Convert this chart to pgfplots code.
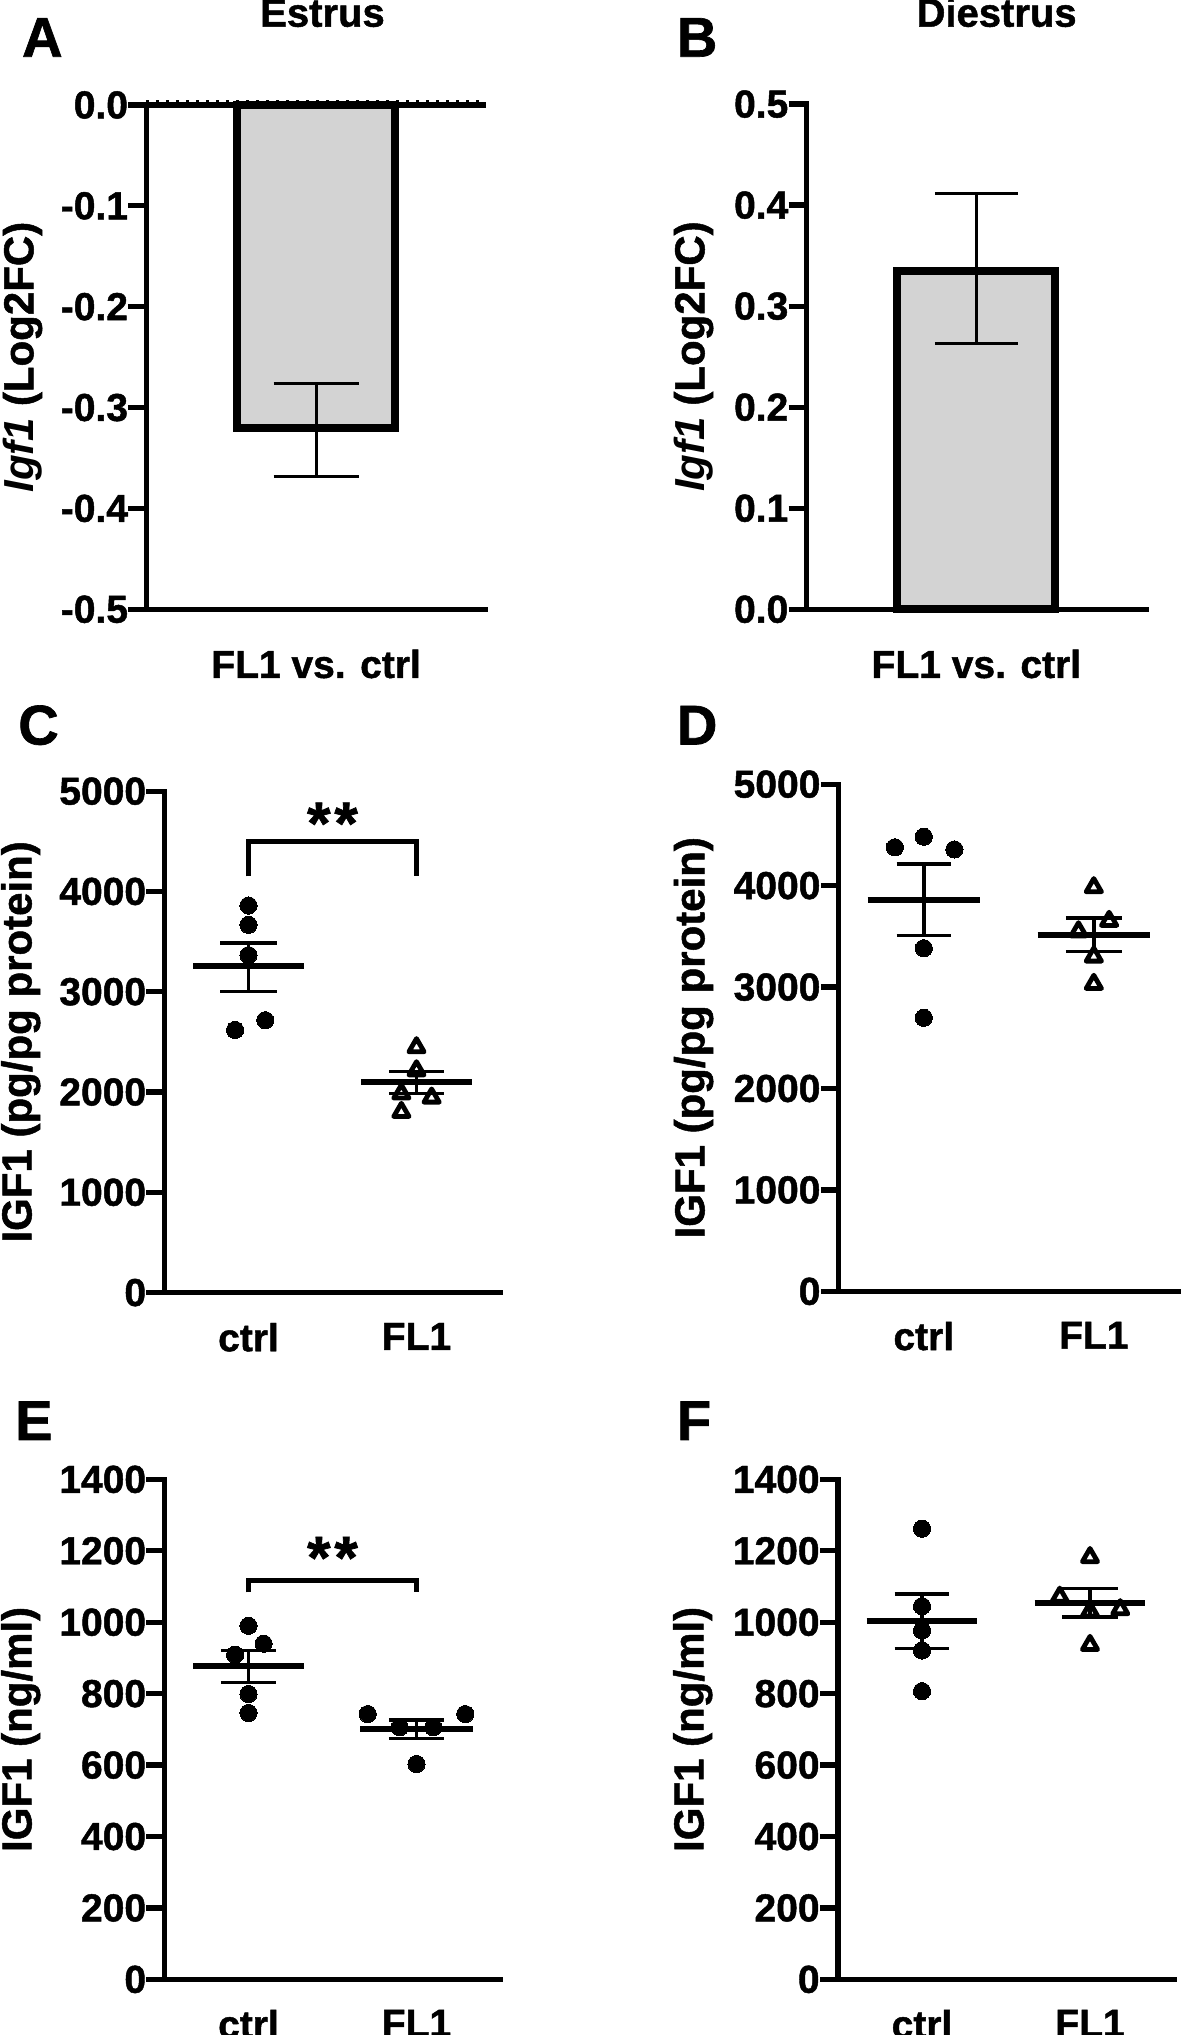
\documentclass[border=0pt]{standalone}
\usepackage{fontspec}
\setmainfont{Liberation Sans}[BoldFeatures={FakeBold=1.2}]
\usepackage{pgfplots}
\pgfplotsset{compat=1.18}
\definecolor{barg}{RGB}{211,211,211}
\newcommand{\tickf}{\bfseries\fontsize{19.5pt}{22pt}\selectfont}
\newcommand{\labf}{\bfseries\fontsize{21pt}{24pt}\selectfont}
\newcommand{\titf}{\bfseries\fontsize{20pt}{23pt}\selectfont}
\newcommand{\letf}{\bfseries\fontsize{28pt}{32pt}\selectfont}
\newcommand{\starf}{\bfseries\fontsize{30pt}{34pt}\selectfont}

\pgfplotsset{
  prism/.style={
    scale only axis, clip=false,
    axis x line*=bottom, axis y line*=left,
    axis line style={-, line width=2.65pt, line cap=rect},
    x axis line style={-}, y axis line style={-},
    tick style={line width=2.65pt, black},
    major tick length=9pt,
    tick align=outside,
    major x tick style={draw=none},
    yticklabel style={font=\tickf, inner sep=0pt},
    xticklabel style={font=\tickf, inner sep=0pt},
    every axis y label/.style={rotate=90, anchor=center, font=\labf},
  },
  mean/.style={black, line width=3pt, mark=none},
  sem/.style={black, line width=1.7pt, mark=none},
  ctrlm/.style={only marks, mark=*, mark size=4.3pt, mark options={draw=black, fill=black, line width=0pt}},
  trim/.style={only marks, mark=triangle, mark size=4.4pt, mark options={draw=black, line width=2.4pt, line join=round}},
}

\begin{document}
\begin{tikzpicture}
\useasboundingbox (0,0) rectangle (590.5pt,1017.5pt);

% ---------------- A ----------------
\begin{axis}[prism, at={(73.2pt,712.85pt)}, anchor=south west,
  width=169.7pt, height=252.15pt,
  xmin=0, xmax=1, ymin=-0.5, ymax=0,
  ytick={-0.5,-0.4,-0.3,-0.2,-0.1,0}, yticklabels={-0.5,-0.4,-0.3,-0.2,-0.1,0.0},
  xtick={0.5}, xticklabels={FL1 vs. ctrl}, xticklabel style={yshift=-11pt},
  ylabel={\itshape Igf1\upshape{} (Log2FC)},
  ylabel style={at={(axis description cs:-0.3648,0.5)}}]
\addplot[ybar, bar width=79pt, fill=barg, draw=black, line width=4pt] coordinates {(0.5,-0.32)};
\addplot[black, line width=2.65pt] coordinates {(0,0) (1,0)};
\addplot[black, line width=1.3pt, dash pattern=on 1.3pt off 3.7pt] coordinates {(0,0.004) (1,0.004)};
\addplot[black, line width=1.5pt] coordinates {(0.5,-0.276) (0.5,-0.368)};
\addplot[black, line width=1.5pt] coordinates {(0.375,-0.276) (0.625,-0.276)};
\addplot[black, line width=1.5pt] coordinates {(0.375,-0.368) (0.625,-0.368)};
\end{axis}

% ---------------- B ----------------
\begin{axis}[prism, at={(403.35pt,712.85pt)}, anchor=south west,
  width=169.65pt, height=252.6pt,
  xmin=0, xmax=1, ymin=0, ymax=0.5,
  ytick={0,0.1,0.2,0.3,0.4,0.5}, yticklabels={0.0,0.1,0.2,0.3,0.4,0.5},
  xtick={0.5}, xticklabels={FL1 vs. ctrl}, xticklabel style={yshift=-11pt},
  ylabel={\itshape Igf1\upshape{} (Log2FC)},
  ylabel style={at={(axis description cs:-0.3333,0.5)}}]
\addplot[ybar, bar width=79pt, fill=barg, draw=black, line width=4pt] coordinates {(0.5,0.335)};
\addplot[black, line width=1.5pt] coordinates {(0.5,0.263) (0.5,0.412)};
\addplot[black, line width=1.5pt] coordinates {(0.378,0.412) (0.622,0.412)};
\addplot[black, line width=1.5pt] coordinates {(0.378,0.263) (0.622,0.263)};
\end{axis}

% ---------------- C ----------------
\begin{axis}[prism, at={(82.25pt,371.2pt)}, anchor=south west,
  width=168pt, height=250.7pt,
  xmin=0.5, xmax=2.5, ymin=0, ymax=5000,
  ytick={0,1000,2000,3000,4000,5000}, yticklabels={0,1000,2000,3000,4000,5000},
  xtick={1,2}, xticklabels={ctrl,FL1}, xticklabel style={yshift=-6pt},
  ylabel={IGF1 (pg/pg protein)},
  ylabel style={at={(axis description cs:-0.428,0.5)}}]
\addplot[ctrlm] coordinates {(1,3860) (1,3667) (1,3365) (0.92,2619) (1.10,2716)};
\addplot[trim] coordinates {(2,2445) (2,2215) (1.91,1984) (2.09,1943) (1.91,1800)};
\addplot[mean] coordinates {(0.67,3253) (1.33,3253)};
\addplot[sem] coordinates {(1,3003) (1,3488)};
\addplot[sem] coordinates {(0.832,3488) (1.168,3488)};
\addplot[sem] coordinates {(0.832,3003) (1.168,3003)};
\addplot[mean] coordinates {(1.67,2099) (2.33,2099)};
\addplot[sem] coordinates {(2,1985) (2,2205)};
\addplot[sem] coordinates {(1.835,2205) (2.165,2205)};
\addplot[sem] coordinates {(1.835,1985) (2.165,1985)};
\addplot[black, line width=2.5pt, mark=none] coordinates {(1,4150) (1,4503) (2,4503) (2,4150)};
\node[font=\starf, anchor=north, inner sep=0pt] at (axis cs:1.5,4890) {*\kern2pt*};
\end{axis}

% ---------------- D ----------------
\begin{axis}[prism, at={(419.4pt,371.8pt)}, anchor=south west,
  width=170pt, height=253.6pt,
  xmin=0.5, xmax=2.5, ymin=0, ymax=5000,
  ytick={0,1000,2000,3000,4000,5000}, yticklabels={0,1000,2000,3000,4000,5000},
  xtick={1,2}, xticklabels={ctrl,FL1}, xticklabel style={yshift=-6pt},
  ylabel={IGF1 (pg/pg protein)},
  ylabel style={at={(axis description cs:-0.427,0.5)}}]
\addplot[ctrlm] coordinates {(0.83,4378) (1,4482) (1.18,4357) (1,3383) (1,2697)};
\addplot[trim] coordinates {(2,3983) (2.09,3651) (1.91,3548) (2,3299) (2,3030)};
\addplot[mean] coordinates {(0.67,3859) (1.33,3859)};
\addplot[sem] coordinates {(1,3506) (1,4212)};
\addplot[sem] coordinates {(0.84,4212) (1.16,4212)};
\addplot[sem] coordinates {(0.84,3506) (1.16,3506)};
\addplot[mean] coordinates {(1.67,3515) (2.33,3515)};
\addplot[sem] coordinates {(2,3352) (2,3680)};
\addplot[sem] coordinates {(1.835,3680) (2.165,3680)};
\addplot[sem] coordinates {(1.835,3352) (2.165,3352)};
\end{axis}

% ---------------- E ----------------
\begin{axis}[prism, at={(82.25pt,27.8pt)}, anchor=south west,
  width=168pt, height=250pt,
  xmin=0.5, xmax=2.5, ymin=0, ymax=1400,
  ytick={0,200,400,600,800,1000,1200,1400}, yticklabels={0,200,400,600,800,1000,1200,1400},
  xtick={1,2}, xticklabels={ctrl,FL1}, xticklabel style={yshift=-6pt},
  ylabel={IGF1 (ng/ml)},
  ylabel style={at={(axis description cs:-0.428,0.5)}}]
\addplot[ctrlm] coordinates {(1,990) (1.09,940) (0.92,909) (1,799) (1,746)};
\addplot[ctrlm] coordinates {(1.71,743) (2.29,743) (1.90,706) (2.10,706) (2,603)};
\addplot[mean] coordinates {(0.67,877) (1.33,877)};
\addplot[sem] coordinates {(1,832) (1,921)};
\addplot[sem] coordinates {(0.835,921) (1.165,921)};
\addplot[sem] coordinates {(0.835,832) (1.165,832)};
\addplot[mean] coordinates {(1.665,702) (2.335,702)};
\addplot[sem] coordinates {(2,675) (2,726)};
\addplot[sem] coordinates {(1.835,726) (2.165,726)};
\addplot[sem] coordinates {(1.835,675) (2.165,675)};
\addplot[black, line width=2.5pt, mark=none] coordinates {(1,1084) (1,1117) (2,1117) (2,1084)};
\node[font=\starf, anchor=north, inner sep=0pt] at (axis cs:1.5,1240) {*\kern2pt*};
\end{axis}

% ---------------- F ----------------
\begin{axis}[prism, at={(419pt,27.8pt)}, anchor=south west,
  width=168pt, height=250pt,
  xmin=0.5, xmax=2.5, ymin=0, ymax=1400,
  ytick={0,200,400,600,800,1000,1200,1400}, yticklabels={0,200,400,600,800,1000,1200,1400},
  xtick={1,2}, xticklabels={ctrl,FL1}, xticklabel style={yshift=-6pt},
  ylabel={IGF1 (ng/ml)},
  ylabel style={at={(axis description cs:-0.4324,0.5)}}]
\addplot[ctrlm] coordinates {(1,1262) (1,1045) (1,977) (1,921) (1,807)};
\addplot[trim] coordinates {(2,1182) (1.82,1071) (2,1030) (2.18,1036) (2,936)};
\addplot[mean] coordinates {(0.67,1003) (1.33,1003)};
\addplot[sem] coordinates {(1,927) (1,1079)};
\addplot[sem] coordinates {(0.837,1079) (1.163,1079)};
\addplot[sem] coordinates {(0.837,927) (1.163,927)};
\addplot[mean] coordinates {(1.67,1053) (2.33,1053)};
\addplot[sem] coordinates {(2,1015) (2,1094)};
\addplot[sem] coordinates {(1.835,1094) (2.165,1094)};
\addplot[sem] coordinates {(1.835,1015) (2.165,1015)};
\end{axis}

% titles and panel letters
\node[font=\titf, anchor=base, inner sep=0pt] at (161.25pt,1004.15pt) {Estrus};
\node[font=\titf, anchor=base, inner sep=0pt] at (498.3pt,1004.15pt) {Diestrus};
\node[font=\letf, anchor=base west, inner sep=0pt] at (10.85pt,989.15pt) {A};
\node[font=\letf, anchor=base west, inner sep=0pt] at (338.25pt,989.15pt) {B};
\node[font=\letf, anchor=base west, inner sep=0pt] at (8.95pt,645.25pt) {C};
\node[font=\letf, anchor=base west, inner sep=0pt] at (338.25pt,645.25pt) {D};
\node[font=\letf, anchor=base west, inner sep=0pt] at (7.4pt,297.5pt) {E};
\node[font=\letf, anchor=base west, inner sep=0pt] at (338.25pt,297.5pt) {F};
\end{tikzpicture}
\end{document}
